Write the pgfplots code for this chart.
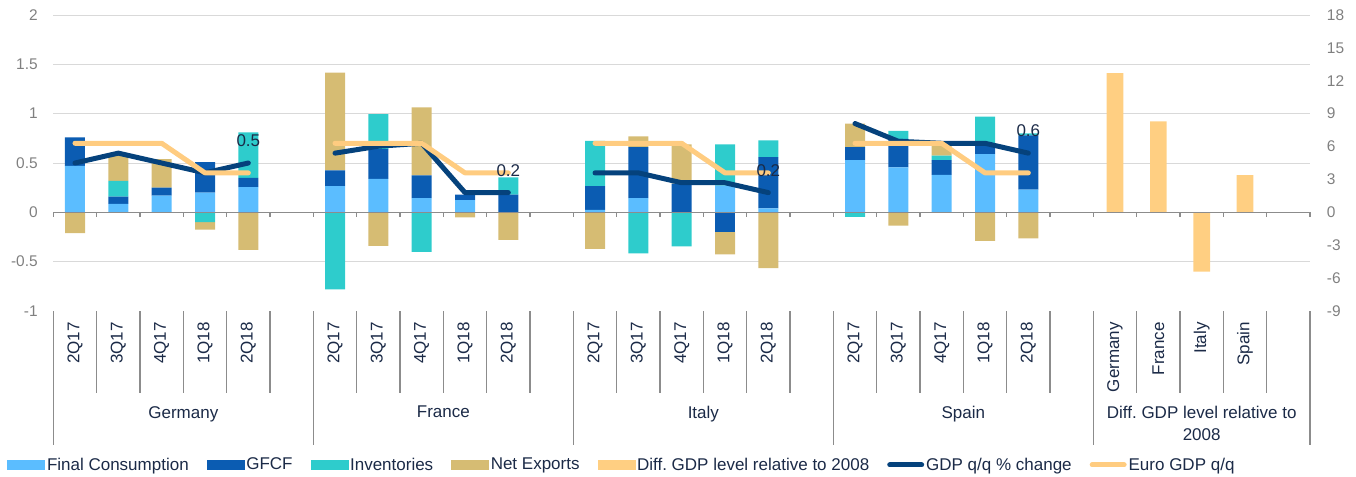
\documentclass[border=0pt]{standalone}
\usepackage{pgfplots}
\pgfplotsset{compat=1.18}
\usepackage{pgfplotstable}
\usepackage{fontspec}
\setmainfont{Liberation Sans}

\definecolor{fcC}{HTML}{5BBDFF}
\definecolor{gfcfC}{HTML}{0B5CB2}
\definecolor{invC}{HTML}{2ECCCC}
\definecolor{nxC}{HTML}{D6BC73}
\definecolor{diffC}{HTML}{FFCF82}
\definecolor{gdpC}{HTML}{05427C}
\definecolor{euroC}{HTML}{FFCC80}
\definecolor{textC}{HTML}{1B2A47}
\definecolor{tickC}{HTML}{808080}
\definecolor{gridC}{HTML}{D9D9D9}
\definecolor{sepC}{HTML}{8C8C8C}

% positive parts of the contributions
\pgfplotstableread{
x fc gfcf inv nx
0 0.47 0.29 0 0
1 0.085 0.075 0.16 0.28
2 0.17 0.08 0 0.29
3 0.2 0.31 0 0
4 0.255 0.095 0.46 0
6 0.265 0.16 0 0.99
7 0.34 0.3 0.355 0
8 0.145 0.23 0 0.69
9 0.125 0.055 0 0
10 0 0.18 0.175 0
12 0.025 0.24 0.46 0
13 0.145 0.515 0 0.11
14 0 0.29 0 0.4
15 0.27 0 0.42 0
16 0.04 0.52 0.17 0
18 0.53 0.13 0 0.24
19 0.455 0.29 0.08 0
20 0.38 0.15 0.045 0.12
21 0.59 0.11 0.27 0
22 0.23 0.55 0.02 0
}\posdata

% negative parts of the contributions
\pgfplotstableread{
x gfcf inv nx
0 0 0 -0.21
1 0 0 0
2 0 0 0
3 0 -0.1 -0.075
4 0 0 -0.38
6 0 -0.78 0
7 0 0 -0.34
8 0 -0.4 0
9 0 0 -0.05
10 0 0 -0.28
12 0 0 -0.37
13 0 -0.415 0
14 0 -0.345 0
15 -0.2 0 -0.225
16 0 0 -0.565
18 0 -0.045 0
19 0 0 -0.135
20 0 0 0
21 0 0 -0.29
22 0 0 -0.265
}\negdata

% GDP q/q and euro GDP q/q
\pgfplotstableread{
x gdp euro
0 0.5 0.7
1 0.6 0.7
2 0.5 0.7
3 0.4 0.4
4 0.5 0.4
5 nan nan
6 0.6 0.7
7 0.67 0.7
8 0.7 0.7
9 0.2 0.4
10 0.2 0.4
11 nan nan
12 0.4 0.7
13 0.4 0.7
14 0.3 0.7
15 0.3 0.4
16 0.2 0.4
17 nan nan
18 0.9 0.7
19 0.72 0.7
20 0.7 0.7
21 0.7 0.4
22 0.6 0.4
}\linedata

\pgfplotsset{
  base/.style={
    scale only axis, width=942.5pt, height=222pt,
    xmin=-0.5, xmax=28.5, ymin=-1, ymax=2,
    at={(0pt,0pt)}, anchor=south west,
  },
  hideall/.style={axis line style={draw=none}, xtick=\empty, ytick=\empty, major tick length=0pt},
  patch/.style={legend image code/.code={\fill[#1] (0pt,-3.4pt) rectangle (27.75pt,3.4pt);}},
  lineimg/.style={legend image code/.code={\draw[#1, line width=3.75pt, line cap=round] (1.9pt,0pt) -- (25.85pt,0pt);}},
}

\begin{document}
\begin{tikzpicture}
\path[use as bounding box] (-40pt,-123.75pt) rectangle (977pt,233.25pt);

% ---------- main axis: grid, ticks, labels, positive stacks ----------
\begin{axis}[base,
  axis line style={draw=none},
  major tick length=0pt,
  ytick={-1,-0.5,0,0.5,1,1.5,2},
  yticklabels={-1,-0.5,0,0.5,1,1.5,2},
  yticklabel style={font=\fontsize{11.6}{14}\selectfont, text=tickC, anchor=east, inner sep=0pt, xshift=-11.5pt},
  extra y ticks={-0.5,0.5,1,1.5,2},
  extra y tick labels={},
  extra y tick style={grid=major, major grid style={gridC, line width=0.75pt}},
  xtick={0,...,28},
  xticklabels={2Q17,3Q17,4Q17,1Q18,2Q18,,2Q17,3Q17,4Q17,1Q18,2Q18,,2Q17,3Q17,4Q17,1Q18,2Q18,,2Q17,3Q17,4Q17,1Q18,2Q18,,Germany,France,Italy,Spain,},
  xticklabel style={yshift=-8.25pt, rotate=90, anchor=east, inner sep=0pt, font=\fontsize{12.75}{15}\selectfont, text=textC},
  ybar stacked, bar width=15pt,
  clip=false,
]
\addplot[fill=fcC, draw=none] table[x=x, y=fc] {\posdata};
\addplot[fill=gfcfC, draw=none] table[x=x, y=gfcf] {\posdata};
\addplot[fill=invC, draw=none] table[x=x, y=inv] {\posdata};
\addplot[fill=nxC, draw=none] table[x=x, y=nx] {\posdata};
\pgfplotsinvokeforeach{0.5,1.5,2.5,3.5,4.5,6.5,7.5,8.5,9.5,10.5,12.5,13.5,14.5,15.5,16.5,18.5,19.5,20.5,21.5,22.5,24.5,25.5,26.5,27.5}{
  \draw[sepC, line width=1.1pt] (axis cs:#1,-1) -- ([yshift=-61.5pt]axis cs:#1,-1);
}
\pgfplotsinvokeforeach{-0.5,5.5,11.5,17.5,23.5,28.5}{
  \draw[sepC, line width=1.1pt] (axis cs:#1,-1) -- ([yshift=-100.5pt]axis cs:#1,-1);
}
\end{axis}

% ---------- negative stacks ----------
\begin{axis}[base, hideall, ybar stacked, bar width=15pt]
\addplot[fill=gfcfC, draw=none] table[x=x, y=gfcf] {\negdata};
\addplot[fill=invC, draw=none] table[x=x, y=inv] {\negdata};
\addplot[fill=nxC, draw=none] table[x=x, y=nx] {\negdata};
\end{axis}

% ---------- right axis: difference in GDP level vs 2008 ----------
\begin{axis}[base, ymin=-9, ymax=18,
  axis line style={draw=none}, xtick=\empty, major tick length=0pt,
  ytick={-9,-6,-3,0,3,6,9,12,15,18},
  yticklabels={-9,-6,-3,0,3,6,9,12,15,18},
  yticklabel pos=right,
  yticklabel style={font=\fontsize{11.6}{14}\selectfont, text=tickC, anchor=west, inner sep=0pt, xshift=12.5pt},
  ybar, bar width=12.5pt, bar shift=0pt, clip=false,
]
\addplot[fill=diffC, draw=none] coordinates {(24,12.7) (25,8.3) (26,-5.4) (27,3.4)};
\draw[sepC, line width=1.1pt] (axis cs:-0.5,0) -- (axis cs:28.5,0);
\pgfplotsinvokeforeach{-0.5,0.5,1.5,2.5,3.5,4.5,5.5,6.5,7.5,8.5,9.5,10.5,11.5,12.5,13.5,14.5,15.5,16.5,17.5,18.5,19.5,20.5,21.5,22.5,23.5,24.5,25.5,26.5,27.5,28.5}{
  \draw[sepC, line width=1.1pt] (axis cs:#1,0) -- ([yshift=-3.5pt]axis cs:#1,0);
}
\end{axis}

% ---------- lines, group labels, legend ----------
\begin{axis}[base,
  axis line style={draw=none}, ytick=\empty, major tick length=0pt,
  xtick={2.5,8.5,14.5,20.5,26},
  xticklabels={Germany,France,Italy,Spain,{Diff.\ GDP level relative to\\2008}},
  xticklabel style={anchor=north, inner sep=0pt, yshift=-71.25pt, align=center, font=\fontsize{12.75}{16.5}\selectfont, text=textC},
  unbounded coords=jump, clip=false,
  legend style={at={(0.4525,-0.52)}, anchor=center, draw=none, fill=none,
    font=\fontsize{12.75}{15}\selectfont, text=textC,
    nodes={inner sep=1.5pt},
    /tikz/every even column/.append style={column sep=12pt}},
  legend columns=7,
]
\addlegendimage{patch=fcC}
\addlegendentry{Final Consumption}
\addlegendimage{patch=gfcfC}
\addlegendentry{GFCF}
\addlegendimage{patch=invC}
\addlegendentry{Inventories}
\addlegendimage{patch=nxC}
\addlegendentry{Net Exports}
\addlegendimage{patch=diffC}
\addlegendentry{Diff.\ GDP level relative to 2008}
\addlegendimage{lineimg=gdpC}
\addlegendentry{GDP q/q \% change}
\addlegendimage{lineimg=euroC}
\addlegendentry{Euro GDP q/q}
\addplot[forget plot, gdpC, line width=3.75pt, line cap=round, line join=round, mark=none] table[x=x, y=gdp] {\linedata};
\addplot[forget plot, euroC, line width=3.75pt, line cap=round, line join=round, mark=none] table[x=x, y=euro] {\linedata};
\addplot[forget plot, draw=none, mark=none, nodes near coords, point meta=explicit symbolic,
  every node near coord/.append style={anchor=center, yshift=16.5pt, font=\fontsize{12.75}{15}\selectfont, text=textC}]
  coordinates {(4,0.5) [0.5] (10,0.2) [0.2] (16,0.2) [0.2] (22,0.6) [0.6]};
\end{axis}
\end{tikzpicture}
\end{document}
